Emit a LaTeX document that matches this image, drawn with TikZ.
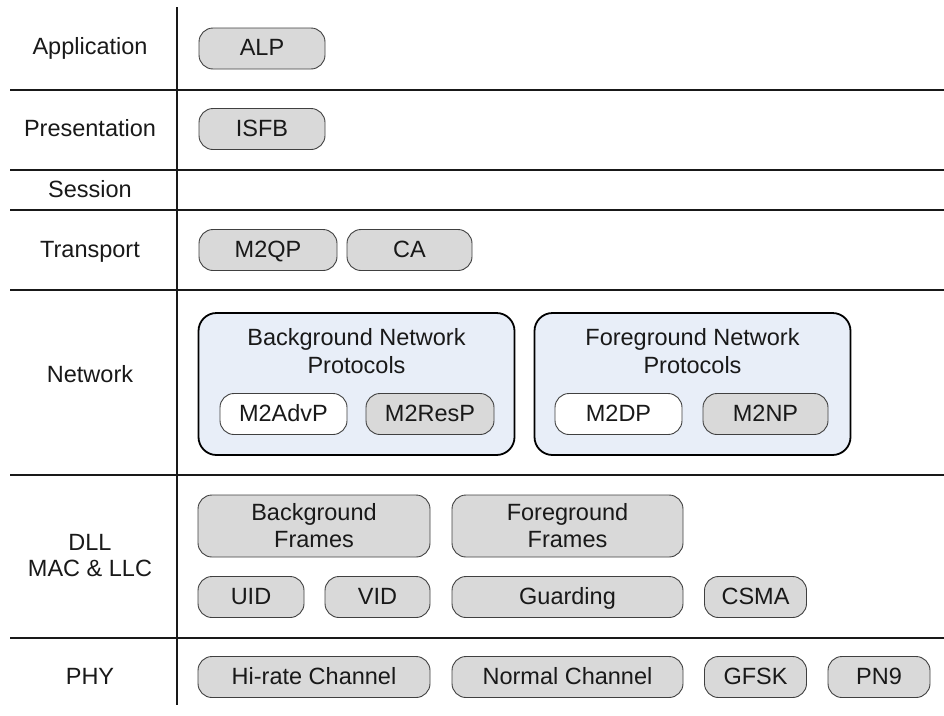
\documentclass[tikz,border=0pt]{standalone}
\usepackage{fontspec}
\setmainfont{Liberation Sans}
\definecolor{boxgray}{RGB}{217,217,217}
\definecolor{netblue}{RGB}{232,238,248}
\begin{document}
\begin{tikzpicture}[x=1pt, y=-1pt,
    layer/.style={font=\fontsize{23.5}{26}\selectfont, align=center, text=black!90},
    layername/.style={layer, text height=17pt, text depth=2.5pt},
    grouptitle/.style={layer, font=\fontsize{23.5}{28}\selectfont},
    protobox/.style={draw=black!75, fill=boxgray, line width=0.9pt, rounded corners=14pt,
      inner sep=0pt, align=center, text=black!90, font=\fontsize{23.5}{27}\selectfont},
    proto/.style={protobox, minimum height=41pt, text height=17pt, text depth=2.5pt},
    protowhite/.style={proto, fill=white},
    frames/.style={protobox, minimum height=62pt},
    group/.style={draw=black, fill=netblue, line width=1.8pt, rounded corners=18pt,
      inner sep=0pt, minimum width=316pt, minimum height=142pt}]
        \useasboundingbox (0,0) rectangle (944,715);
        % Draw layer separators
        \foreach \y in {90,170,210,290,475,638}
            \draw[line width=2pt, black!90] (10,\y) -- (944,\y);
        \draw[line width=2pt, black!90] (177,7) -- (177,705);
        % Layer names
        \node[layername] (application) at (90,47) {Application};
        \node[layername] (presentation) at (90,129) {Presentation};
        \node[layername] (session) at (90,190) {Session};
        \node[layername] (transport) at (90,250) {Transport};
        \node[layername] (network) at (90,375) {Network};
        \node[layer] (dll) at (90,556) {DLL\\MAC \& LLC};
        \node[layername] (phy) at (90,677) {PHY};
        % Application, presentation and transport
        \node[proto, minimum width=126pt] (alp) at (262,48.5) {ALP};
        \node[proto, minimum width=126pt] (isfb) at (262,129) {ISFB};
        \node[proto, minimum width=138pt] (m2qp) at (268,250) {M2QP};
        \node[proto, minimum width=125pt] (ca) at (409.5,250) {CA};
        % Network protocol groups
        \node[group] (bgnet) at (356.5,384) {};
        \node[group] (fgnet) at (692.5,384) {};
        \node[grouptitle] (bgtitle) at (bgnet.center |- 0,351.5) {Background Network\\Protocols};
        \node[grouptitle] (fgtitle) at (fgnet.center |- 0,351.5) {Foreground Network\\Protocols};
        \node[protowhite, minimum width=127pt] (m2advp) at (283.5,414) {M2AdvP};
        \node[proto, minimum width=128pt] (m2resp) at (430,414) {M2ResP};
        \node[protowhite, minimum width=127pt] (m2dp) at (618.5,414) {M2DP};
        \node[proto, minimum width=125pt] (m2np) at (765.5,414) {M2NP};
        % Data link layer
        \node[frames, minimum width=232pt] (bgframes) at (314,526) {Background\\Frames};
        \node[frames, minimum width=231pt] (fgframes) at (567.5,526) {Foreground\\Frames};
        \node[proto, minimum width=106pt] (uid) at (251,597) {UID};
        \node[proto, minimum width=105pt] (vid) at (377.5,597) {VID};
        \node[proto, minimum width=231pt] (guarding) at (567.5,597) {Guarding};
        \node[proto, minimum width=102pt] (csma) at (755.5,597) {CSMA};
        % Physical layer
        \node[proto, minimum width=232pt] (hirate) at (314,677) {Hi-rate Channel};
        \node[proto, minimum width=231pt] (normal) at (567.5,677) {Normal Channel};
        \node[proto, minimum width=102pt] (gfsk) at (755.5,677) {GFSK};
        \node[proto, minimum width=102pt] (pn9) at (879,677) {PN9};
\end{tikzpicture}
\end{document}
